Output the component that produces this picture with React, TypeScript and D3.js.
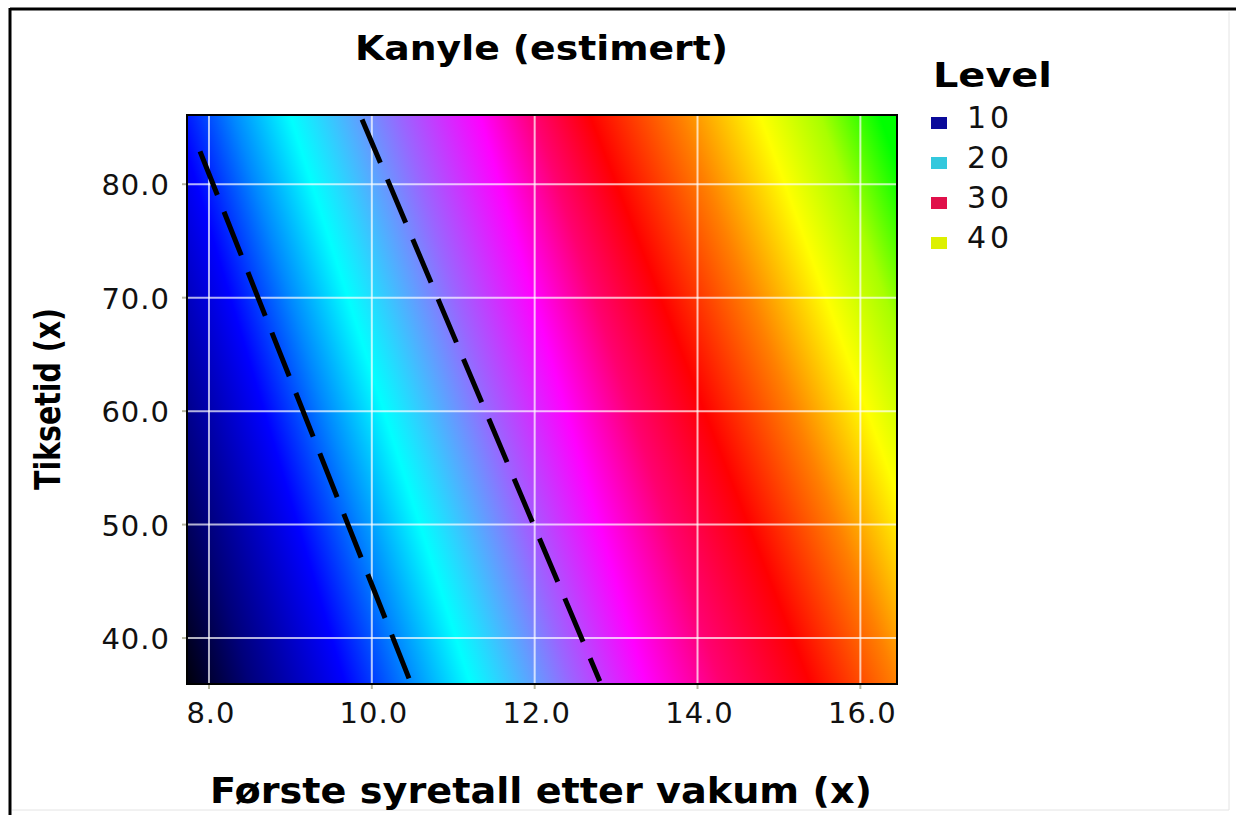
import React from "react";
import * as d3 from "d3";

// ---- data ----
const xTicks = [8, 10, 12, 14, 16];
const yTicks = [40, 50, 60, 70, 80];
const xDomain = [7.73, 16.45];
const yDomain = [35.95, 86.1];

// colour bands of the estimated surface: x position of each colour at the bottom (y=36) and top (y=86)
const bandYBottom = 36;
const bandYTop = 86;
const stopColors = [
  "#00000a", "#00007a", "#0000ff", "#0088ff", "#00ffff", "#9966ff", "#ff00ff",
  "#ff0070", "#ff0000", "#ff8000", "#ffff00", "#a8ff00", "#00ff00",
];
const stopXBottom = [7.73, 8.5, 9.67, 10.47, 11.21, 12.44, 13.36, 14.28, 15.38, 16.45, 17.3, 18.0, 18.7];
const stopXTop = [5.5, 6.6, 7.6, 8.3, 9.0, 10.35, 11.33, 12.0, 12.68, 13.79, 14.77, 15.51, 16.24];

// dashed contour lines
const contour1X = [7.89, 10.47];
const contour1Y = [82.9, 36.2];
const contour2X = [9.88, 12.8];
const contour2Y = [85.7, 36.2];

const legendLevels = ["10", "20", "30", "40"];
const legendColors = ["#0a0a9a", "#33c8dd", "#e0104a", "#ddf000"];

const titleText = "Kanyle (estimert)";
const xTitle = "Første syretall etter vakum (x)";
const yTitle = "Tiksetid (x)";

export default function App() {
  const W = 1236, H = 815;
  const L = 187, R = 897, T = 115, B = 684;
  const x = d3.scaleLinear().domain(xDomain).range([L, R]);
  const y = d3.scaleLinear().domain(yDomain).range([B, T]);

  const step = 2;
  const strips = d3.range(T, B, step).map((py) => {
    const yv = y.invert(py + step / 2);
    const f = (yv - bandYBottom) / (bandYTop - bandYBottom);
    const pos = stopXBottom.map((b, i) => b + f * (stopXTop[i] - b));
    return { py, pos };
  });

  const line = d3.line<[number, number]>().x((d) => x(d[0])).y((d) => y(d[1]));
  const c1 = line(contour1X.map((v, i) => [v, contour1Y[i]] as [number, number]));
  const c2 = line(contour2X.map((v, i) => [v, contour2Y[i]] as [number, number]));

  const font = "'DejaVu Sans', Verdana, sans-serif";

  return (
    <svg width={W} height={H} style={{ position: "absolute", left: 0, top: 0, background: "#fff" }}>
      <defs>
        {strips.map((s, k) => {
          const p0 = s.pos[0], p1 = s.pos[s.pos.length - 1];
          return (
            <linearGradient key={k} id={"g" + k} gradientUnits="userSpaceOnUse" x1={x(p0)} y1={0} x2={x(p1)} y2={0}>
              {s.pos.map((p, i) => (
                <stop key={i} offset={(p - p0) / (p1 - p0)} stopColor={stopColors[i]} />
              ))}
            </linearGradient>
          );
        })}
        <clipPath id="clip">
          <rect x={L} y={T} width={R - L} height={B - T} />
        </clipPath>
      </defs>
      {/* frame */}
      <rect x={0} y={0} width={W} height={H} fill="#fff" />
      <line x1={10} y1={9} x2={W} y2={9} stroke="#000" strokeWidth={3} />
      <line x1={10} y1={8} x2={10} y2={H} stroke="#000" strokeWidth={3} />
      <line x1={1229} y1={12} x2={1229} y2={810} stroke="#e4e4e4" strokeWidth={1} />
      <line x1={12} y1={810} x2={1229} y2={810} stroke="#e4e4e4" strokeWidth={1} />

      <text x={(355 + 728) / 2} y={60} textAnchor="middle" fontFamily={font} fontWeight="bold" fontSize={34}
        textLength={373} lengthAdjust="spacingAndGlyphs">{titleText}</text>

      {/* plot */}
      <g clipPath="url(#clip)">
        {strips.map((s, k) => (
          <rect key={k} x={L} y={s.py} width={R - L} height={step + 1} fill={`url(#g${k})`} />
        ))}
        {xTicks.map((v) => (
          <line key={"gx" + v} x1={x(v)} x2={x(v)} y1={T} y2={B} stroke="rgba(255,255,255,0.7)" strokeWidth={2} />
        ))}
        {yTicks.map((v) => (
          <line key={"gy" + v} x1={L} x2={R} y1={y(v)} y2={y(v)} stroke="rgba(255,255,255,0.7)" strokeWidth={2} />
        ))}
        <path d={c1 || ""} fill="none" stroke="#000" strokeWidth={5} strokeDasharray="47 18" />
        <path d={c2 || ""} fill="none" stroke="#000" strokeWidth={5} strokeDasharray="47 18" />
      </g>
      <rect x={L} y={T} width={R - L} height={B - T} fill="none" stroke="#000" strokeWidth={2} />

      {/* axes */}
      {xTicks.map((v) => (
        <g key={"xt" + v}>
          <line x1={x(v)} x2={x(v)} y1={B + 1} y2={B + 5} stroke="#b8b8a0" strokeWidth={2} />
          <text x={x(v) + 2} y={723} textAnchor="middle" fontFamily={font} fontSize={29} fill="#111"
            letterSpacing={1}>{v.toFixed(1)}</text>
        </g>
      ))}
      {yTicks.map((v) => (
        <g key={"yt" + v}>
          <line x1={L - 5} x2={L - 1} y1={y(v)} y2={y(v)} stroke="#b8b8a0" strokeWidth={2} />
          <text x={170} y={y(v) + 11} textAnchor="end" fontFamily={font} fontSize={29} fill="#111"
            letterSpacing={1}>{v.toFixed(1)}</text>
        </g>
      ))}
      <text x={541} y={803} textAnchor="middle" fontFamily={font} fontWeight="bold" fontSize={36}
        textLength={662} lengthAdjust="spacingAndGlyphs">{xTitle}</text>
      <text transform={`translate(60, 399) rotate(-90)`} textAnchor="middle" fontFamily={font} fontWeight="bold"
        fontSize={36} textLength={182} lengthAdjust="spacingAndGlyphs">{yTitle}</text>

      {/* legend */}
      <text x={933} y={87} fontFamily={font} fontWeight="bold" fontSize={34} textLength={119}
        lengthAdjust="spacingAndGlyphs">Level</text>
      {legendLevels.map((lv, i) => (
        <g key={lv}>
          <rect x={931} y={117 + i * 40} width={16} height={12} fill={legendColors[i]} />
          <text x={967} y={128 + i * 40} fontFamily={font} fontSize={30} fill="#111" letterSpacing={4}>{lv}</text>
        </g>
      ))}
    </svg>
  );
}
